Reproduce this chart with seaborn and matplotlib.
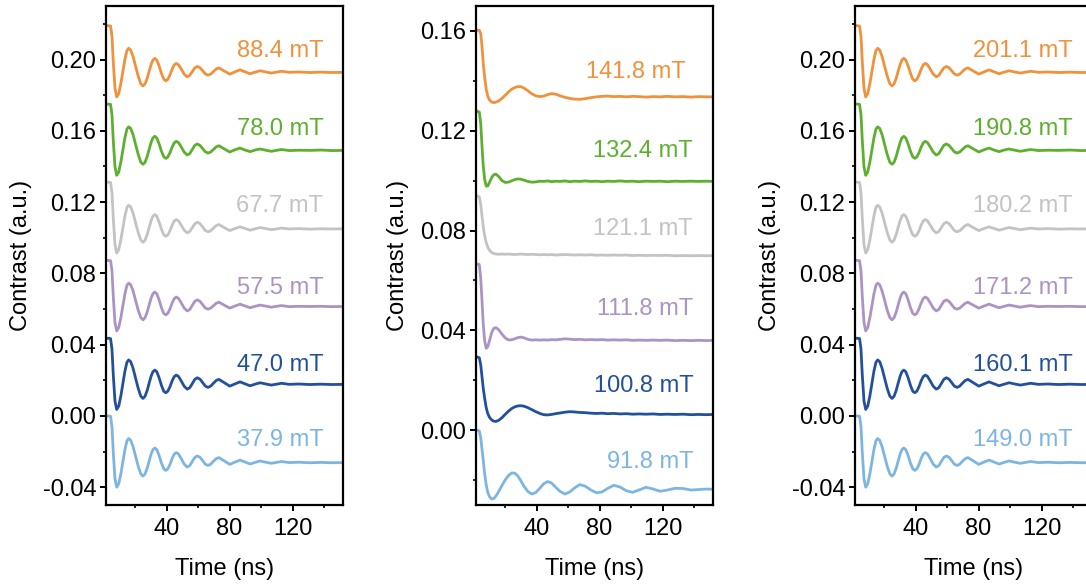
import numpy as np
import pandas as pd
import matplotlib
matplotlib.use("Agg")
import matplotlib.pyplot as plt
import seaborn as sns
from matplotlib.ticker import MultipleLocator, FormatStrFormatter

# ---------------------------------------------------------------------------
# Data: pulsed-measurement contrast traces, stacked with a vertical offset
# ---------------------------------------------------------------------------

# time grid (ns) shared by the low- and high-field traces
time_osc = [2.3, 4.4, 5.3, 6.1, 7.2, 8.3, 9.6, 11.0, 12.2, 13.5,
            14.8, 15.9, 17.2, 18.7, 20.4, 22.0, 23.6, 25.0, 26.3, 27.7,
            29.0, 30.2, 31.3, 32.5, 33.8, 35.2, 36.7, 38.2, 39.5, 40.8,
            42.2, 43.5, 44.8, 46.1, 47.5, 49.3, 51.2, 53.1, 54.7, 56.3,
            57.9, 59.5, 61.2, 62.9, 64.6, 66.3, 68.0, 69.7, 71.5, 73.2,
            76.7, 80.1, 83.3, 86.6, 89.8, 93.0, 96.2, 99.4, 103.0, 106.5,
            109.8, 113.0, 118.0, 124.0, 131.0, 138.0, 145.0, 152.0]

# stacking offsets (steady-state level of each trace), top to bottom
levels_osc = [0.1928, 0.1490, 0.1049, 0.0614, 0.0177, -0.0262]

# contrast change relative to the steady-state level
osc_orange = [0.0262, 0.0260, 0.0202, 0.0062, -0.0090, -0.0138, -0.0119, -0.0060, 0.0003, 0.0072,
              0.0122, 0.0135, 0.0125, 0.0089, 0.0031, -0.0023, -0.0064, -0.0076, -0.0065, -0.0032,
              0.0009, 0.0045, 0.0069, 0.0078, 0.0068, 0.0037, -0.0005, -0.0038, -0.0048, -0.0039,
              -0.0013, 0.0017, 0.0041, 0.0050, 0.0043, 0.0018, -0.0010, -0.0025, -0.0017, 0.0004,
              0.0025, 0.0033, 0.0026, 0.0009, -0.0009, -0.0016, -0.0010, 0.0004, 0.0019, 0.0025,
              0.0007, -0.0010, 0.0002, 0.0014, 0.0003, -0.0008, 0.0001, 0.0009, 0.0002, -0.0004,
              0.0001, 0.0006, 0.0000, 0.0002, -0.0001, 0.0001, -0.0001, 0.0000]
osc_green = [0.0260, 0.0258, 0.0200, 0.0060, -0.0092, -0.0140, -0.0121, -0.0062, 0.0001, 0.0070,
             0.0120, 0.0132, 0.0123, 0.0088, 0.0030, -0.0024, -0.0066, -0.0078, -0.0067, -0.0033,
             0.0009, 0.0046, 0.0070, 0.0079, 0.0069, 0.0037, -0.0004, -0.0036, -0.0045, -0.0037,
             -0.0012, 0.0018, 0.0042, 0.0051, 0.0044, 0.0019, -0.0010, -0.0026, -0.0018, 0.0005,
             0.0028, 0.0036, 0.0028, 0.0010, -0.0008, -0.0015, -0.0009, 0.0005, 0.0020, 0.0026,
             0.0008, -0.0009, 0.0003, 0.0013, 0.0002, -0.0007, 0.0002, 0.0008, 0.0001, -0.0005,
             0.0000, 0.0005, -0.0001, 0.0001, 0.0000, 0.0002, -0.0001, 0.0000]
osc_gray = [0.0263, 0.0261, 0.0203, 0.0064, -0.0087, -0.0135, -0.0116, -0.0058, 0.0004, 0.0072,
            0.0121, 0.0133, 0.0124, 0.0089, 0.0032, -0.0021, -0.0062, -0.0075, -0.0063, -0.0030,
            0.0012, 0.0048, 0.0072, 0.0081, 0.0071, 0.0040, -0.0001, -0.0033, -0.0041, -0.0033,
            -0.0009, 0.0021, 0.0044, 0.0053, 0.0046, 0.0021, -0.0007, -0.0022, -0.0014, 0.0007,
            0.0029, 0.0038, 0.0030, 0.0011, -0.0009, -0.0016, -0.0010, 0.0004, 0.0019, 0.0025,
            0.0007, -0.0009, 0.0002, 0.0012, 0.0003, -0.0007, 0.0001, 0.0008, 0.0002, -0.0004,
            0.0000, 0.0005, 0.0000, 0.0002, -0.0001, 0.0001, 0.0000, 0.0001]
osc_purple = [0.0259, 0.0257, 0.0199, 0.0060, -0.0090, -0.0137, -0.0118, -0.0060, 0.0002, 0.0070,
              0.0119, 0.0131, 0.0122, 0.0087, 0.0031, -0.0022, -0.0062, -0.0075, -0.0063, -0.0030,
              0.0012, 0.0048, 0.0072, 0.0081, 0.0071, 0.0038, -0.0006, -0.0039, -0.0047, -0.0038,
              -0.0012, 0.0020, 0.0044, 0.0053, 0.0046, 0.0020, -0.0009, -0.0025, -0.0017, 0.0006,
              0.0029, 0.0037, 0.0029, 0.0010, -0.0009, -0.0015, -0.0009, 0.0004, 0.0018, 0.0024,
              0.0007, -0.0009, 0.0002, 0.0013, 0.0003, -0.0007, 0.0001, 0.0008, 0.0002, -0.0004,
              0.0001, 0.0005, -0.0001, 0.0001, 0.0000, 0.0001, -0.0001, 0.0000]
osc_navy = [0.0259, 0.0257, 0.0198, 0.0057, -0.0094, -0.0141, -0.0122, -0.0062, 0.0003, 0.0073,
            0.0124, 0.0137, 0.0127, 0.0090, 0.0031, -0.0024, -0.0066, -0.0079, -0.0067, -0.0033,
            0.0010, 0.0047, 0.0071, 0.0080, 0.0070, 0.0038, -0.0005, -0.0039, -0.0047, -0.0038,
            -0.0012, 0.0019, 0.0043, 0.0052, 0.0045, 0.0019, -0.0011, -0.0027, -0.0019, 0.0004,
            0.0028, 0.0037, 0.0029, 0.0010, -0.0010, -0.0017, -0.0010, 0.0006, 0.0022, 0.0028,
            0.0009, -0.0010, 0.0002, 0.0014, 0.0003, -0.0008, 0.0001, 0.0009, 0.0002, -0.0004,
            0.0001, 0.0006, 0.0000, 0.0002, -0.0001, 0.0001, -0.0001, 0.0000]
osc_sky = [0.0262, 0.0260, 0.0201, 0.0061, -0.0091, -0.0138, -0.0119, -0.0060, 0.0003, 0.0072,
           0.0122, 0.0135, 0.0125, 0.0089, 0.0032, -0.0022, -0.0063, -0.0076, -0.0064, -0.0030,
           0.0012, 0.0049, 0.0073, 0.0082, 0.0072, 0.0040, -0.0002, -0.0035, -0.0044, -0.0035,
           -0.0009, 0.0023, 0.0047, 0.0056, 0.0049, 0.0022, -0.0009, -0.0025, -0.0017, 0.0006,
           0.0029, 0.0037, 0.0030, 0.0011, -0.0009, -0.0016, -0.0009, 0.0007, 0.0022, 0.0028,
           0.0009, -0.0010, 0.0002, 0.0014, 0.0003, -0.0008, 0.0001, 0.0009, 0.0002, -0.0004,
           0.0001, 0.0006, 0.0000, 0.0002, -0.0001, 0.0001, -0.0001, 0.0000]
traces_osc = [osc_orange, osc_green, osc_gray, osc_purple, osc_navy, osc_sky]

# mid-field traces (absolute contrast)
time_mid = [2.0, 3.6, 4.5, 5.3, 6.1, 7.0, 8.0, 9.0, 10.2, 11.5,
            12.8, 14.2, 16.0, 18.0, 20.0, 22.0, 24.0, 26.0, 28.0, 30.0,
            32.0, 34.5, 37.0, 39.5, 42.0, 44.5, 47.0, 49.5, 52.0, 55.0,
            58.0, 61.0, 64.0, 67.5, 71.0, 74.5, 78.0, 81.5, 85.0, 89.0,
            93.0, 97.0, 101.0, 105.0, 109.5, 114.0, 118.5, 123.0, 128.0, 133.0,
            138.0, 143.0, 148.0, 152.0]
mid_orange = [0.1603, 0.1603, 0.1590, 0.1540, 0.1470, 0.1415, 0.1365, 0.1338, 0.1322, 0.1315,
              0.1313, 0.1315, 0.1320, 0.1330, 0.1342, 0.1355, 0.1366, 0.1373, 0.1377, 0.1377,
              0.1371, 0.1360, 0.1348, 0.1340, 0.1337, 0.1339, 0.1345, 0.1349, 0.1347, 0.1340,
              0.1334, 0.1330, 0.1327, 0.1326, 0.1329, 0.1333, 0.1336, 0.1338, 0.1339, 0.1337,
              0.1338, 0.1336, 0.1338, 0.1337, 0.1335, 0.1337, 0.1336, 0.1338, 0.1336, 0.1337,
              0.1335, 0.1337, 0.1336, 0.1336]
mid_green = [0.1279, 0.1275, 0.1230, 0.1140, 0.1060, 0.1005, 0.0978, 0.0979, 0.0995, 0.1013,
             0.1024, 0.1026, 0.1016, 0.1000, 0.0993, 0.0994, 0.0999, 0.1004, 0.1007, 0.1006,
             0.1002, 0.0997, 0.0994, 0.0995, 0.0998, 0.0997, 0.0999, 0.0996, 0.0998, 0.0997,
             0.0999, 0.0996, 0.0998, 0.0997, 0.0999, 0.0997, 0.0998, 0.0996, 0.0998, 0.0997,
             0.0999, 0.0997, 0.0998, 0.0996, 0.0998, 0.0997, 0.0998, 0.0996, 0.0998, 0.0997,
             0.0998, 0.0997, 0.0998, 0.0997]
mid_gray = [0.0940, 0.0935, 0.0905, 0.0860, 0.0815, 0.0780, 0.0752, 0.0733, 0.0720, 0.0712,
            0.0708, 0.0706, 0.0705, 0.0706, 0.0705, 0.0706, 0.0705, 0.0704, 0.0705, 0.0706,
            0.0705, 0.0704, 0.0705, 0.0704, 0.0703, 0.0704, 0.0703, 0.0704, 0.0702, 0.0703,
            0.0704, 0.0703, 0.0702, 0.0703, 0.0702, 0.0703, 0.0701, 0.0702, 0.0701, 0.0702,
            0.0701, 0.0702, 0.0700, 0.0701, 0.0700, 0.0701, 0.0700, 0.0701, 0.0699, 0.0700,
            0.0699, 0.0700, 0.0699, 0.0700]
mid_purple = [0.0667, 0.0664, 0.0610, 0.0520, 0.0425, 0.0358, 0.0328, 0.0335, 0.0362, 0.0392,
              0.0408, 0.0411, 0.0402, 0.0385, 0.0370, 0.0362, 0.0362, 0.0366, 0.0371, 0.0373,
              0.0370, 0.0364, 0.0361, 0.0362, 0.0361, 0.0362, 0.0361, 0.0363, 0.0362, 0.0364,
              0.0366, 0.0365, 0.0363, 0.0364, 0.0362, 0.0363, 0.0362, 0.0363, 0.0361, 0.0362,
              0.0361, 0.0362, 0.0360, 0.0361, 0.0360, 0.0361, 0.0360, 0.0361, 0.0359, 0.0360,
              0.0359, 0.0360, 0.0359, 0.0360]
mid_navy = [0.0294, 0.0290, 0.0262, 0.0215, 0.0168, 0.0128, 0.0090, 0.0066, 0.0050, 0.0041,
            0.0036, 0.0035, 0.0040, 0.0050, 0.0063, 0.0075, 0.0086, 0.0093, 0.0097, 0.0098,
            0.0096, 0.0090, 0.0082, 0.0074, 0.0067, 0.0062, 0.0061, 0.0063, 0.0066, 0.0069,
            0.0072, 0.0074, 0.0073, 0.0071, 0.0070, 0.0068, 0.0067, 0.0068, 0.0066, 0.0067,
            0.0065, 0.0066, 0.0064, 0.0065, 0.0064, 0.0065, 0.0063, 0.0064, 0.0063, 0.0064,
            0.0062, 0.0063, 0.0062, 0.0063]
mid_sky = [0.0000, -0.0003, -0.0030, -0.0075, -0.0120, -0.0175, -0.0220, -0.0250, -0.0268, -0.0276,
           -0.0274, -0.0264, -0.0245, -0.0222, -0.0200, -0.0183, -0.0172, -0.0172, -0.0183, -0.0203,
           -0.0225, -0.0246, -0.0256, -0.0250, -0.0233, -0.0215, -0.0206, -0.0212, -0.0228, -0.0246,
           -0.0256, -0.0248, -0.0232, -0.0218, -0.0225, -0.0240, -0.0251, -0.0248, -0.0234, -0.0221,
           -0.0228, -0.0243, -0.0249, -0.0240, -0.0229, -0.0236, -0.0245, -0.0240, -0.0233, -0.0234,
           -0.0240, -0.0238, -0.0236, -0.0237]
traces_mid = [mid_orange, mid_green, mid_gray, mid_purple, mid_navy, mid_sky]

# magnetic field of each trace (top to bottom)
fields_low = ["88.4 mT", "78.0 mT", "67.7 mT", "57.5 mT", "47.0 mT", "37.9 mT"]
fields_mid = ["141.8 mT", "132.4 mT", "121.1 mT", "111.8 mT", "100.8 mT", "91.8 mT"]
fields_high = ["201.1 mT", "190.8 mT", "180.2 mT", "171.2 mT", "160.1 mT", "149.0 mT"]

# ---------------------------------------------------------------------------
# Style
# ---------------------------------------------------------------------------
colors = ["#F0913B", "#5DAF2E", "#C3C3C3", "#AB93C4", "#22509C", "#7DB5E2"]
label_y_osc = [0.2048, 0.1608, 0.1177, 0.0717, 0.0285, -0.0137]
label_x_osc = [139.5] * 6
label_y_mid = [0.1434, 0.1118, 0.0808, 0.0485, 0.0175, -0.0128]
label_x_mid = [134.5, 139.0, 139.0, 139.5, 139.5, 139.5]

sns.set_theme(style="ticks")
plt.rcParams["font.family"] = ["Liberation Sans", "DejaVu Sans"]
plt.rcParams["axes.unicode_minus"] = False

FS = 17
fig = plt.figure(figsize=(10.86, 5.87), dpi=100, facecolor="white")

panel_lefts = [0.0976, 0.4383, 0.7873]
panel_bottom, panel_w, panel_h = 0.1397, 0.2182, 0.850


def frame_axes(ax, ylim, ymajor):
    ax.set_facecolor("white")
    ax.set_xlim(1.5, 152)
    ax.set_ylim(*ylim)
    ax.xaxis.set_major_locator(MultipleLocator(40))
    ax.xaxis.set_minor_locator(MultipleLocator(20))
    ax.set_xticks([40, 80, 120])
    ax.yaxis.set_major_locator(MultipleLocator(ymajor))
    ax.yaxis.set_minor_locator(MultipleLocator(ymajor / 2))
    ax.yaxis.set_major_formatter(FormatStrFormatter("%.2f"))
    ax.tick_params(which="major", direction="out", length=4.5, width=1.4,
                   labelsize=FS, pad=2.5, colors="black")
    ax.tick_params(which="minor", direction="out", length=2.5, width=1.2,
                   colors="black")
    ax.tick_params(axis="x", which="major", pad=5)
    for sp in ax.spines.values():
        sp.set_visible(True)
        sp.set_linewidth(1.6)
        sp.set_color("black")
    ax.set_xlabel("Time (ns)", fontsize=FS, labelpad=13, color="black")
    ax.set_ylabel("Contrast (a.u.)", fontsize=FS, labelpad=8, color="black")
    ax.grid(False)


def draw_panel(ax, t, traces, fields, lab_x, lab_y, levels=None):
    for i, vals in enumerate(traces):
        y = np.asarray(vals, dtype=float)
        if levels is not None:
            y = y + levels[i]
        df = pd.DataFrame({"time": t, "contrast": y})
        sns.lineplot(data=df, x="time", y="contrast", ax=ax, color=colors[i],
                     linewidth=2.0, sort=False, legend=False, estimator=None)
        ax.text(lab_x[i], lab_y[i], fields[i], color=colors[i], fontsize=FS,
                ha="right", va="center")


# low field
ax1 = fig.add_axes([panel_lefts[0], panel_bottom, panel_w, panel_h])
draw_panel(ax1, time_osc, traces_osc, fields_low, label_x_osc, label_y_osc, levels_osc)
frame_axes(ax1, (-0.05, 0.23), 0.04)

# mid field
ax2 = fig.add_axes([panel_lefts[1], panel_bottom, panel_w, panel_h])
draw_panel(ax2, time_mid, traces_mid, fields_mid, label_x_mid, label_y_mid)
frame_axes(ax2, (-0.03, 0.17), 0.04)

# high field
ax3 = fig.add_axes([panel_lefts[2], panel_bottom, panel_w, panel_h])
draw_panel(ax3, time_osc, traces_osc, fields_high, label_x_osc, label_y_osc, levels_osc)
frame_axes(ax3, (-0.05, 0.23), 0.04)

fig.savefig("out.png", dpi=100, facecolor="white")
